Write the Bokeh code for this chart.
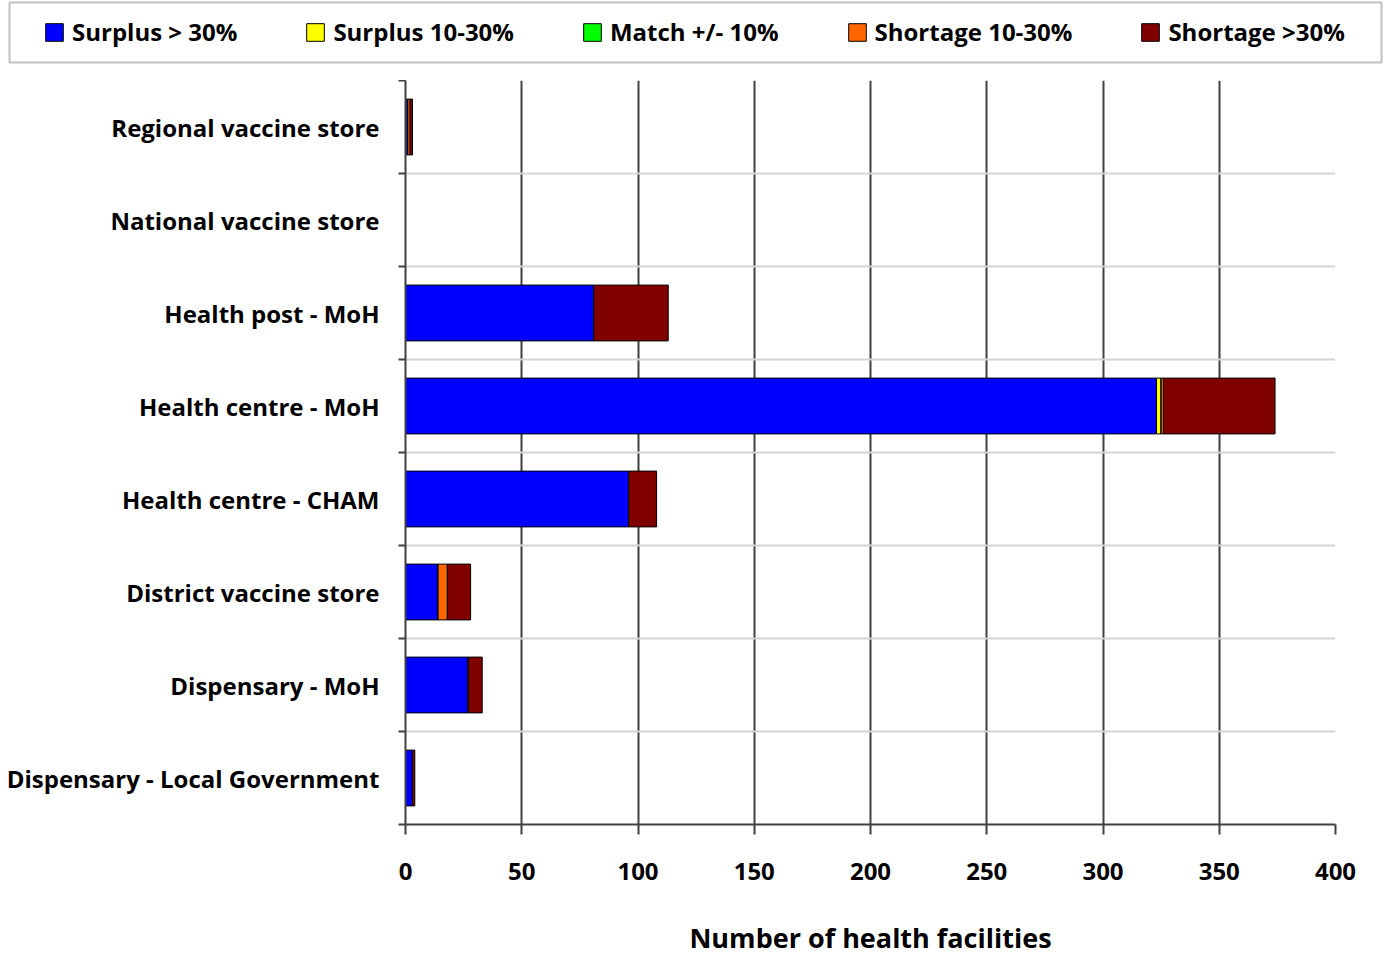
from bokeh.plotting import figure
from bokeh.models import Range1d, FixedTicker, Legend, LegendItem, ColumnDataSource, BoxAnnotation
from bokeh.layouts import column
from bokeh.embed import file_html
from bokeh.resources import INLINE

categories = ["Regional vaccine store", "National vaccine store", "Health post - MoH",
              "Health centre - MoH", "Health centre - CHAM", "District vaccine store",
              "Dispensary - MoH", "Dispensary - Local Government"]
series_names = ["Surplus > 30%", "Surplus 10-30%", "Match +/- 10%", "Shortage 10-30%", "Shortage >30%"]
surplus_gt30 = [1, 0, 81, 323, 96, 14, 27, 3]
surplus_10_30 = [0, 0, 0, 2, 0, 0, 0, 0]
match_10 = [0, 0, 0, 0, 0, 0, 0, 0]
shortage_10_30 = [1, 0, 0, 1, 0, 4, 0, 0]
shortage_gt30 = [1, 0, 32, 48, 12, 10, 6, 1]
colors = ["#0000FF", "#FFFF00", "#00FF00", "#FF6600", "#800000"]
x_ticks = [0, 50, 100, 150, 200, 250, 300, 350, 400]

n = len(categories)
ypos = [n - 0.5 - i for i in range(n)]
boundaries = list(range(0, n + 1))

src = ColumnDataSource(dict(y=ypos, s0=surplus_gt30, s1=surplus_10_30, s2=match_10,
                            s3=shortage_10_30, s4=shortage_gt30))
keys = ["s0", "s1", "s2", "s3", "s4"]

FONT = "Open Sans"
W = 1384
LEG_H = 80

# ---- main chart ----
p = figure(width=W, height=958 - LEG_H, output_backend="svg", toolbar_location=None,
           x_range=Range1d(0, 400), y_range=Range1d(0, n),
           min_border_left=405, min_border_right=49, min_border_bottom=125, min_border_top=0)
p.outline_line_color = None
p.frame_align = False

renderers = p.hbar_stack(keys, y="y", height=0.6, color=colors, source=src,
                         line_color="black", line_width=1)

p.xaxis.ticker = FixedTicker(ticks=x_ticks)
p.xaxis.axis_line_color = "#404040"
p.xaxis.axis_line_width = 2
p.xaxis.major_tick_line_color = "#404040"
p.xaxis.major_tick_line_width = 2
p.xaxis.major_tick_out = 10
p.xaxis.major_tick_in = 0
p.xaxis.minor_tick_line_color = None
p.xaxis.major_label_standoff = 28
p.xaxis.major_label_text_font = FONT
p.xaxis.major_label_text_font_style = "bold"
p.xaxis.major_label_text_font_size = "24px"
p.xaxis.major_label_text_color = "black"
p.xaxis.axis_label = "Number of health facilities"
p.xaxis.axis_label_text_font = FONT
p.xaxis.axis_label_text_font_style = "bold"
p.xaxis.axis_label_text_font_size = "27px"
p.xaxis.axis_label_text_color = "black"
p.xaxis.axis_label_standoff = 36

p.yaxis.ticker = FixedTicker(ticks=ypos, minor_ticks=boundaries)
p.yaxis.major_label_overrides = {y: c for y, c in zip(ypos, categories)}
p.yaxis.axis_line_color = "#404040"
p.yaxis.axis_line_width = 2
p.yaxis.major_tick_line_color = None
p.yaxis.minor_tick_line_color = "#404040"
p.yaxis.minor_tick_line_width = 2
p.yaxis.minor_tick_out = 7
p.yaxis.minor_tick_in = 0
p.yaxis.major_label_standoff = 19
p.yaxis.major_label_text_font = FONT
p.yaxis.major_label_text_font_style = "bold"
p.yaxis.major_label_text_font_size = "24px"
p.yaxis.major_label_text_color = "black"

p.xgrid.ticker = FixedTicker(ticks=x_ticks)
p.xgrid.grid_line_color = "#404040"
p.xgrid.grid_line_width = 2
p.ygrid.ticker = FixedTicker(ticks=boundaries[1:-1])
p.ygrid.grid_line_color = "#d4d4d4"
p.ygrid.grid_line_width = 2

# ---- legend strip ----
lf = figure(width=W, height=LEG_H, output_backend="svg", toolbar_location=None,
            x_range=Range1d(0, W), y_range=Range1d(0, LEG_H),
            min_border_left=0, min_border_right=0, min_border_top=0, min_border_bottom=0,
            x_axis_type=None, y_axis_type=None)
lf.outline_line_color = None
lf.frame_align = False
lf.xgrid.visible = False
lf.ygrid.visible = False
# same stacked series, drawn outside this strip's view; only used as legend glyphs
leg_src = ColumnDataSource(dict(y=[-100] * n, s0=surplus_gt30, s1=surplus_10_30, s2=match_10,
                                s3=shortage_10_30, s4=shortage_gt30))
leg_r = lf.hbar_stack(keys, y="y", height=0.6, color=colors, source=leg_src,
                      line_color="black", line_width=1)
lf.add_layout(BoxAnnotation(left=9, right=1381, bottom=18, top=78,
                            fill_color=None, line_color="#303030", line_width=2))
legend = Legend(items=[LegendItem(label=nm, renderers=[r]) for nm, r in zip(series_names, leg_r)],
                orientation="horizontal", location=(43, 32))
legend.label_text_font = FONT
legend.label_text_font_style = "bold"
legend.label_text_font_size = "24px"
legend.label_text_color = "black"
legend.label_height = 28
legend.glyph_width = 22
legend.glyph_height = 22
legend.label_standoff = 7
legend.spacing = 67
legend.padding = 16
legend.margin = 0
legend.border_line_color = None
legend.background_fill_alpha = 0
lf.add_layout(legend, "center")

layout = column(lf, p, spacing=0)
open("out.html", "w").write(file_html(layout, INLINE))
